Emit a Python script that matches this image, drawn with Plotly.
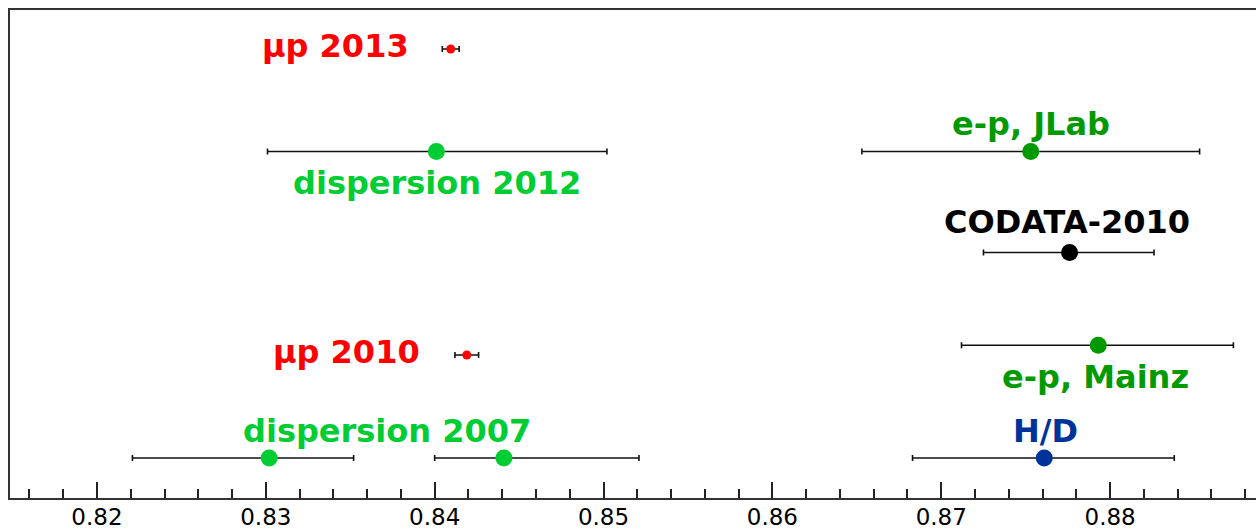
import plotly.graph_objects as go

# ---- data (proton charge radius, fm) ----
labels = ["μp 2013", "dispersion 2012", "e-p, JLab", "CODATA-2010",
          "μp 2010", "e-p, Mainz", "dispersion 2007", "dispersion 2007", "H/D"]
values = [0.84095, 0.8401, 0.8753, 0.8776, 0.8419, 0.8793, 0.8302, 0.8441, 0.8761]
err_plus = [0.0005, 0.0101, 0.0100, 0.0050, 0.0007, 0.0080, 0.0050, 0.0080, 0.0077]
err_minus = [0.0005, 0.0100, 0.0100, 0.0051, 0.0007, 0.0081, 0.0081, 0.0041, 0.0078]
rows = [9.2, 7.1, 7.1, 5.03, 2.93, 3.13, 0.82, 0.82, 0.82]
colors = ["#ff0000", "#00cc33", "#009900", "#000000", "#ff0000",
          "#009900", "#00cc33", "#00cc33", "#003399"]
sizes = [9, 17, 17, 17, 9, 17, 17, 17, 17]

tick_vals = [0.82, 0.83, 0.84, 0.85, 0.86, 0.87, 0.88]
tick_text = ["0.82", "0.83", "0.84", "0.85", "0.86", "0.87", "0.88"]

# label placement (pixel offsets relative to the point)
label_shift = {
    0: dict(xanchor="right", xshift=-40, yshift=3),
    1: dict(xanchor="center", xshift=1, yshift=-31),
    2: dict(xanchor="center", xshift=0, yshift=28),
    3: dict(xanchor="center", xshift=-3, yshift=31),
    4: dict(xanchor="right", xshift=-45, yshift=3),
    5: dict(xanchor="center", xshift=-3, yshift=-32),
    6: dict(xanchor="center", xshift=0, yshift=27),
    8: dict(xanchor="center", xshift=1, yshift=27),
}

fig = go.Figure()
for i in range(len(values)):
    fig.add_trace(go.Scatter(
        x=[values[i]], y=[rows[i]], mode="markers",
        marker=dict(color=colors[i], size=sizes[i], line=dict(width=0)),
        error_x=dict(type="data", symmetric=False, array=[err_plus[i]],
                     arrayminus=[err_minus[i]], color="#111111",
                     thickness=1.6, width=3),
        showlegend=False, hoverinfo="skip"))

for i, opts in label_shift.items():
    xpos = values[i]
    if i == 6:
        xpos = (values[6] + values[7]) / 2
    fig.add_annotation(
        x=xpos, y=rows[i], text=labels[i], showarrow=False,
        yanchor="middle", font=dict(family="DejaVu Sans", size=32,
                                    color=colors[i], weight="bold"),
        **opts)

fig.update_layout(
    width=1256, height=531,
    margin=dict(l=10, r=0, t=10, b=33),
    paper_bgcolor="white", plot_bgcolor="white",
    xaxis=dict(range=[0.81485, 0.88864], tickvals=tick_vals, ticktext=tick_text,
               ticks="inside", ticklen=16, tickwidth=1.5, tickcolor="#222",
               minor=dict(dtick=0.002, tick0=0.82, ticks="inside", ticklen=9,
                          tickwidth=1.5, tickcolor="#222"),
               showline=True, linecolor="#333", linewidth=2, mirror=True,
               showgrid=False, zeroline=False, automargin=False,
               ticklabelstandoff=-3,
               tickfont=dict(family="DejaVu Sans", size=23, color="black")),
    yaxis=dict(range=[0, 10], showticklabels=False, ticks="", showgrid=False,
               zeroline=False, showline=True, linecolor="#333", linewidth=2,
               mirror=False, automargin=False),
)

fig.write_html("out.html")
